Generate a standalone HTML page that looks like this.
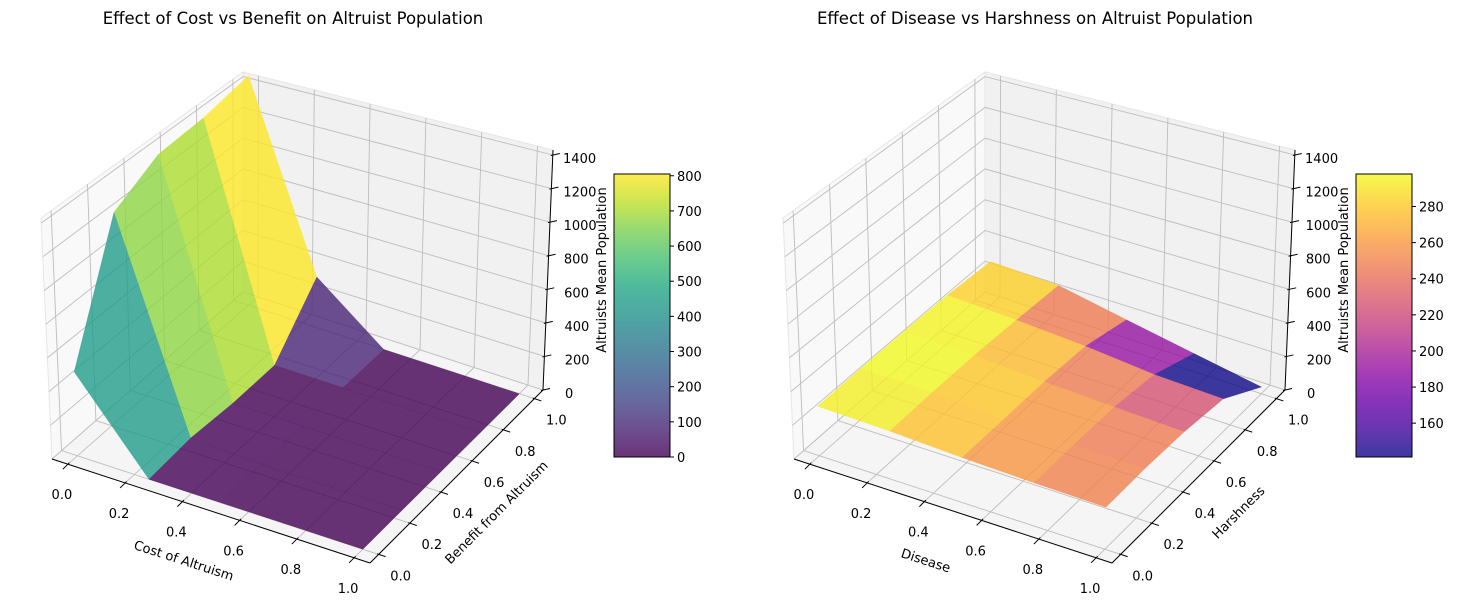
<!DOCTYPE html>
<html><head><meta charset="utf-8"><style>
html,body{margin:0;padding:0;background:#fff;}
svg{display:block;font-family:"DejaVu Sans","Liberation Sans",sans-serif;}
</style></head><body>
<svg id="fig" width="1458" height="609" viewBox="0 0 1458 609" xmlns="http://www.w3.org/2000/svg">
<rect x="0" y="0" width="1458" height="609" fill="#fff"/>
<defs>
<linearGradient id="gViridis" x1="0" y1="1" x2="0" y2="0">
<stop offset="0" stop-color="#440154"/><stop offset="0.1" stop-color="#482475"/><stop offset="0.2" stop-color="#414487"/><stop offset="0.3" stop-color="#355f8d"/><stop offset="0.4" stop-color="#2a788e"/><stop offset="0.5" stop-color="#21918c"/><stop offset="0.6" stop-color="#22a884"/><stop offset="0.7" stop-color="#44bf70"/><stop offset="0.8" stop-color="#7ad151"/><stop offset="0.9" stop-color="#bddf26"/><stop offset="1" stop-color="#fde725"/>
</linearGradient>
<linearGradient id="gPlasma" x1="0" y1="1" x2="0" y2="0">
<stop offset="0" stop-color="#0d0887"/><stop offset="0.1" stop-color="#41049d"/><stop offset="0.2" stop-color="#6a00a8"/><stop offset="0.3" stop-color="#8f0da4"/><stop offset="0.4" stop-color="#b12a90"/><stop offset="0.5" stop-color="#cc4778"/><stop offset="0.6" stop-color="#e16462"/><stop offset="0.7" stop-color="#f2844b"/><stop offset="0.8" stop-color="#fca636"/><stop offset="0.9" stop-color="#fcce25"/><stop offset="1" stop-color="#f0f921"/>
</linearGradient>
</defs>
<g id="left"></g>
<g id="right"></g>
</svg>
<script>
// ---- data: left chart ----
const costValues = [0, 0.25, 0.5, 0.75, 1.0];
const benefitValues = [0, 0.25, 0.5, 0.75, 1.0];
// rows = benefit index, columns = cost index
const altruistsByCostBenefit = [
  [500, 0, 0, 0, 0],
  [1250, 20, 0, 0, 0],
  [1400, 0, 0, 0, 0],
  [1420, 0, 0, 0, 0],
  [1480, 320, 0, 0, 0]
];
// ---- data: right chart ----
const diseaseValues = [0, 0.25, 0.5, 0.75, 1.0];
const harshnessValues = [0, 0.25, 0.5, 0.75, 1.0];
// rows = harshness index, columns = disease index
const altruistsByDiseaseHarshness = [
  [295, 285, 265, 252, 245],
  [302, 292, 265, 254, 247],
  [305, 293, 268, 250, 235],
  [302, 282, 255, 215, 200],
  [282, 265, 185, 110, 40]
];
const xyTickLabels = ["0.0", "0.2", "0.4", "0.6", "0.8", "1.0"];
const xyTicks = [0, 0.2, 0.4, 0.6, 0.8, 1.0];
const zTicks = [0, 200, 400, 600, 800, 1000, 1200, 1400];
const leftCbarTicks = [0, 100, 200, 300, 400, 500, 600, 700, 800];
const rightCbarTicks = [160, 180, 200, 220, 240, 260, 280];

const NS = "http://www.w3.org/2000/svg";
const VIR = ["#440154","#482475","#414487","#355f8d","#2a788e","#21918c","#22a884","#44bf70","#7ad151","#bddf26","#fde725"];
const PLA = ["#0d0887","#41049d","#6a00a8","#8f0da4","#b12a90","#cc4778","#e16462","#f2844b","#fca636","#fcce25","#f0f921"];
function hex(h){return [parseInt(h.substr(1,2),16),parseInt(h.substr(3,2),16),parseInt(h.substr(5,2),16)];}
function cmap(stops,t){t=Math.max(0,Math.min(1,t));const f=t*(stops.length-1);const i=Math.min(stops.length-2,Math.floor(f));const r=f-i;const a=hex(stops[i]),b=hex(stops[i+1]);return "rgb("+a.map((v,k)=>Math.round(v+(b[k]-v)*r)).join(",")+")";}
function mk(parent,tag,attrs){const e=document.createElementNS(NS,tag);for(const k in attrs)e.setAttribute(k,attrs[k]);parent.appendChild(e);return e;}

const ZMAX = 1430;
function buildChart(g, dx, cfg){
  const C = {
    "000":[52,459],"100":[370,563],"110":[543,390],"010":[243,292],
    "001":[41,218],"101":[378,318],"111":[553,150],"011":[243,72]
  };
  function P(u,v,w){
    let x=0,y=0;
    for(const a of [0,1])for(const b of [0,1])for(const c of [0,1]){
      const wt=(a?u:1-u)*(b?v:1-v)*(c?w:1-w);
      const p=C[""+a+b+c];x+=wt*p[0];y+=wt*p[1];
    }
    return [x+dx,y];
  }
  const ux = x=>0.05+0.9*x, vy = y=>0.05+0.9*y, wz = z=>z/ZMAX;
  const pts = arr=>arr.map(p=>p[0].toFixed(1)+","+p[1].toFixed(1)).join(" ");
  let e;
  e=mk(g,"polygon",{points:pts([P(0,0,0),P(1,0,0),P(1,1,0),P(0,1,0)]),fill:"#f5f5f5",stroke:"#e6e6e6"});
  
  
  e=mk(g,"polygon",{points:pts([P(0,0,0),P(0,1,0),P(0,1,1),P(0,0,1)]),fill:"#f9f9f9",stroke:"#e6e6e6"});
  
  
  e=mk(g,"polygon",{points:pts([P(0,1,0),P(1,1,0),P(1,1,1),P(0,1,1)]),fill:"#f1f1f1",stroke:"#e6e6e6"});
  
  
  const grid=mk(g,"g",{stroke:"#bdbdbd","stroke-width":"0.9",fill:"none"});
  
  
  xyTicks.forEach(t=>{
    const u=ux(t), v=vy(t);
    mk(grid,"polyline",{points:pts([P(u,0,0),P(u,1,0),P(u,1,1)])});
    mk(grid,"polyline",{points:pts([P(1,v,0),P(0,v,0),P(0,v,1)])});
  });
  zTicks.forEach(z=>{const w=wz(z);mk(grid,"polyline",{points:pts([P(0,0,w),P(0,1,w),P(1,1,w)])});});
  const X=cfg.xs, Y=cfg.ys, Z=cfg.zs;
  const facets=[];
  for(let j=0;j<Y.length-1;j++)for(let i=0;i<X.length-1;i++){
    const m=(Z[j][i]+Z[j][i+1]+Z[j+1][i]+Z[j+1][i+1])/4;
    const cu=ux((X[i]+X[i+1])/2), cv=vy((Y[j]+Y[j+1])/2), cw=wz(m);
    const depth=(cu-0.5)*4*0.433+(cv-0.5)*4*(-0.75)+(cw-0.5)*3*0.5;
    facets.push({i,j,m,depth});
  }
  const means=facets.map(f=>f.m);
  const vmin=Math.min(...means), vmax=Math.max(...means);
  facets.sort((a,b)=>a.depth-b.depth);
  const sg=mk(g,"g",{});
  
  
  facets.forEach(f=>{
    const {i,j}=f;
    const q=[P(ux(X[i]),vy(Y[j]),wz(Z[j][i])),P(ux(X[i+1]),vy(Y[j]),wz(Z[j][i+1])),P(ux(X[i+1]),vy(Y[j+1]),wz(Z[j+1][i+1])),P(ux(X[i]),vy(Y[j+1]),wz(Z[j+1][i]))];
    const col=cmap(cfg.stops,(f.m-vmin)/(vmax-vmin));
    const p=mk(sg,"polygon",{points:pts(q),fill:col,"fill-opacity":"0.8",stroke:col,"stroke-opacity":"0.3","stroke-width":"0.5"});
    
    
  });
  const ax=mk(g,"g",{stroke:"#000","stroke-width":"1",fill:"none"});
  
  
  mk(ax,"line",{x1:P(0,0,0)[0],y1:P(0,0,0)[1],x2:P(1,0,0)[0],y2:P(1,0,0)[1]});
  mk(ax,"line",{x1:P(1,0,0)[0],y1:P(1,0,0)[1],x2:P(1,1,0)[0],y2:P(1,1,0)[1]});
  mk(ax,"line",{x1:P(1,1,0)[0],y1:P(1,1,0)[1],x2:P(1,1,1)[0],y2:P(1,1,1)[1]});
  const lab=mk(g,"g",{"font-size":"13",fill:"#000"});
  
  
  xyTicks.forEach((t,k)=>{
    let a=P(ux(t),0,0);
    mk(ax,"line",{x1:a[0]+1.5,y1:a[1]-1.5,x2:a[0]-5,y2:a[1]+5});
    let tx=mk(lab,"text",{x:a[0]-6,y:a[1]+35,"text-anchor":"middle"});tx.textContent=xyTickLabels[k];
    
    
    a=P(1,vy(t),0);
    mk(ax,"line",{x1:a[0]-1.5,y1:a[1]-0.5,x2:a[0]+7,y2:a[1]+2.3});
    tx=mk(lab,"text",{x:a[0]+22,y:a[1]+26,"text-anchor":"middle"});tx.textContent=xyTickLabels[k];
    
    
  });
  zTicks.forEach(z=>{
    const w=wz(z), a=P(1,1,w);
    mk(ax,"line",{x1:a[0]-2,y1:a[1]+0.5,x2:a[0]+7,y2:a[1]-1.5});
    const tx=mk(lab,"text",{x:a[0]+22-12*w,y:a[1]+8});tx.textContent=String(z);
    
    
  });
  const t1=mk(g,"text",{x:184+dx,y:565,"font-size":"13","text-anchor":"middle",transform:`rotate(18 ${184+dx} 560)`});t1.textContent=cfg.xlabel;
  
  
  const t2=mk(g,"text",{x:496+dx,y:517,"font-size":"13","text-anchor":"middle",transform:`rotate(-45 ${496+dx} 512)`});t2.textContent=cfg.ylabel;
  
  
  const t3=mk(g,"text",{x:601+dx,y:275,"font-size":"13","text-anchor":"middle",transform:`rotate(-90 ${601+dx} 270)`});t3.textContent="Altruists Mean Population";
  
  
  const tt=mk(g,"text",{x:293+dx,y:24,"font-size":"16.5","text-anchor":"middle"});tt.textContent=cfg.title;
  
  
  const cb=mk(g,"g",{});
  
  
  const cx=614+dx, top=174, bot=457, cw=56;
  mk(cb,"rect",{x:cx,y:top,width:cw,height:bot-top,fill:"#fff"});
  mk(cb,"rect",{x:cx,y:top,width:cw,height:bot-top,fill:cfg.grad,"fill-opacity":"0.8"});
  mk(cb,"rect",{x:cx,y:top,width:cw,height:bot-top,fill:"none",stroke:"#000","stroke-width":"1"});
  cfg.cticks.forEach(v=>{
    const y=bot-(v-vmin)/(vmax-vmin)*(bot-top);
    if(y<top-1||y>bot+1)return;
    mk(cb,"line",{x1:cx+cw,y1:y,x2:cx+cw+4,y2:y,stroke:"#000"});
    const tx=mk(cb,"text",{x:cx+cw+7,y:y+5,"font-size":"13"});tx.textContent=String(v);
    
    
  });
}
buildChart(document.getElementById("left"),0,{xs:costValues,ys:benefitValues,zs:altruistsByCostBenefit,stops:VIR,grad:"url(#gViridis)",cticks:leftCbarTicks,xlabel:"Cost of Altruism",ylabel:"Benefit from Altruism",title:"Effect of Cost vs Benefit on Altruist Population"});
buildChart(document.getElementById("right"),742,{xs:diseaseValues,ys:harshnessValues,zs:altruistsByDiseaseHarshness,stops:PLA,grad:"url(#gPlasma)",cticks:rightCbarTicks,xlabel:"Disease",ylabel:"Harshness",title:"Effect of Disease vs Harshness on Altruist Population"});
</script>
</body></html>
